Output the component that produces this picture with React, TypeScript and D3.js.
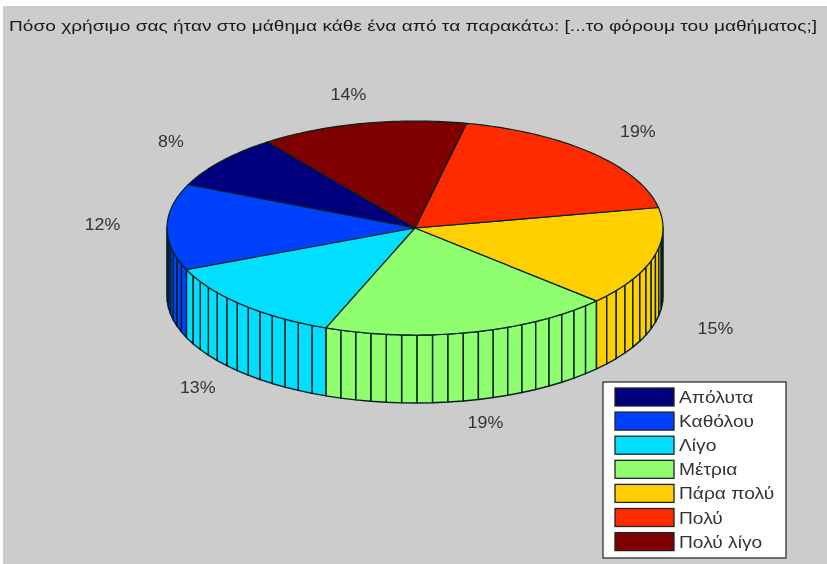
import React from "react";
import * as d3 from "d3";

const title = "Πόσο χρήσιμο σας ήταν στο μάθημα κάθε ένα από τα παρακάτω: [...το φόρουμ του μαθήματος;]";
const categories = ["Απόλυτα", "Καθόλου", "Λίγο", "Μέτρια", "Πάρα πολύ", "Πολύ", "Πολύ λίγο"];
const shares = [8.2, 13.0, 12.8, 18.9, 15.0, 18.6, 13.5];
const labels = ["8%", "12%", "13%", "19%", "15%", "19%", "14%"];
const colors = ["#00007f", "#0040ff", "#00dfff", "#8fff70", "#ffcf00", "#ff2a00", "#7f0000"];

const W = 827, H = 564;
const startDeg = 126.6;
const sx = d3.scaleLinear().domain([-1, 1]).range([167, 663]);
const sy = d3.scaleLinear().domain([-1, 1]).range([335, 121]);
const depth = 68;
const facetDeg = 3.6;
const labelR = 1.26;
const rad = (d: number) => (d * Math.PI) / 180;
const px = (t: number, r = 1) => sx(r * Math.cos(t));
const py = (t: number, r = 1) => sy(r * Math.sin(t));

const slices = d3.pie<number>().sort(null).startAngle(0).endAngle(2 * Math.PI)(shares)
  .map((s, i) => ({
    i,
    a0: rad(startDeg) + s.startAngle,
    a1: rad(startDeg) + s.endAngle,
  }));

const line = d3.line<[number, number]>();

function topPath(a0: number, a1: number) {
  const n = Math.ceil((a1 - a0) / rad(1));
  const pts: [number, number][] = [[sx(0), sy(0)]];
  d3.range(n + 1).forEach((k) => {
    const t = a0 + ((a1 - a0) * k) / n;
    pts.push([px(t), py(t)]);
  });
  return line(pts) + "Z";
}

function facets(a0: number, a1: number) {
  const n = Math.max(1, Math.ceil((a1 - a0) / rad(facetDeg)));
  const out: { t0: number; t1: number }[] = [];
  d3.range(n).forEach((k) => {
    out.push({ t0: a0 + ((a1 - a0) * k) / n, t1: a0 + ((a1 - a0) * (k + 1)) / n });
  });
  return out.filter((f) => Math.sin((f.t0 + f.t1) / 2) < 0.02);
}

function facetPath(t0: number, t1: number) {
  const pts: [number, number][] = [
    [px(t0), py(t0)],
    [px(t1), py(t1)],
    [px(t1), py(t1) + depth],
    [px(t0), py(t0) + depth],
  ];
  return line(pts) + "Z";
}

const legendX = 603, legendY = 382, legendW = 183, legendH = 176, rowH = 24.1;
const textStretch = 1.2;

export default function App() {
  return (
    <svg
      width={W}
      height={H}
      style={{ position: "absolute", left: 0, top: 0, background: "#fff" }}
      fontFamily="'Liberation Sans', Arial, sans-serif"
    >
      <g style={{ filter: "blur(0.6px)" }}>
        <rect x={3} y={6} width={W} height={H} fill="#cccccc" />
        <text
          x={9}
          y={31}
          fontSize={15.5}
          fill="#1a1a1a"
          textLength={808}
          lengthAdjust="spacingAndGlyphs"
        >
          {title}
        </text>
        {slices.flatMap((s) =>
          facets(s.a0, s.a1)
            .sort((a, b) => Math.sin((a.t0 + a.t1) / 2) - Math.sin((b.t0 + b.t1) / 2))
            .map((f, k) => (
              <path
                key={`${s.i}-${k}`}
                d={facetPath(f.t0, f.t1)}
                fill={colors[s.i]}
                stroke="#06201c"
                strokeWidth={1.4}
                strokeLinejoin="round"
              />
            ))
        )}
        {slices.map((s) => (
          <path
            key={s.i}
            d={topPath(s.a0, s.a1)}
            fill={colors[s.i]}
            stroke="#05201c"
            strokeWidth={1.2}
            strokeLinejoin="round"
          />
        ))}
        {slices.map((s) => {
          const m = (s.a0 + s.a1) / 2;
          const lx = px(m, labelR);
          const ly = py(m, labelR) + (Math.sin(m) < -0.01 ? depth - 3 : 0) + 3.5;
          return (
            <text
              key={s.i}
              transform={`translate(${lx},${ly}) scale(1.08,1)`}
              textAnchor="middle"
              fontSize={16.5}
              fill="#333"
            >
              {labels[s.i]}
            </text>
          );
        })}
        <rect x={legendX} y={legendY} width={legendW} height={legendH} fill="#fff" stroke="#333" strokeWidth={1.3} />
        {categories.map((c, i) => (
          <g key={c} transform={`translate(${legendX + 12},${legendY + 6 + i * rowH})`}>
            <rect width={59} height={18} fill={colors[i]} stroke="#222" strokeWidth={1.3} />
            <text transform={`translate(64,15) scale(${textStretch},1)`} fontSize={16} fill="#333">
              {c}
            </text>
          </g>
        ))}
      </g>
    </svg>
  );
}
